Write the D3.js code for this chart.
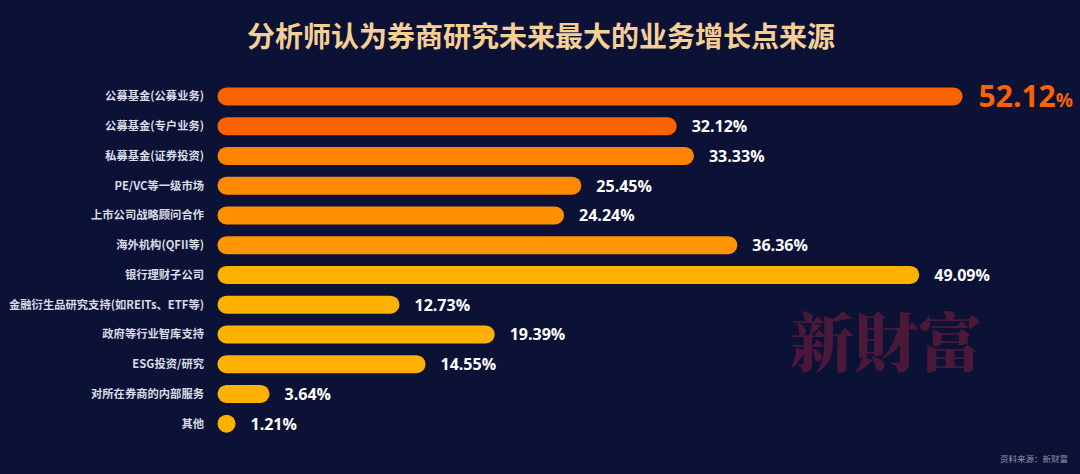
<!DOCTYPE html>
<html><head><meta charset="utf-8">
<script src="https://cdn.jsdelivr.net/npm/d3@7"></script>
<style>
html,body{margin:0;padding:0;background:#0c1136;}
svg{display:block;}
</style></head>
<body>
<svg id="c" width="1080" height="474"></svg>
<script>
const title = "分析师认为券商研究未来最大的业务增长点来源";
const categories = ["公募基金(公募业务)","公募基金(专户业务)","私募基金(证券投资)","PE/VC等一级市场","上市公司战略顾问合作","海外机构(QFII等)","银行理财子公司","金融衍生品研究支持(如REITs、ETF等)","政府等行业智库支持","ESG投资/研究","对所在券商的内部服务","其他"];
const values = [52.12,32.12,33.33,25.45,24.24,36.36,49.09,12.73,19.39,14.55,3.64,1.21];
const barColors = ["#fb6200","#fb6200","#ff8300","#ff8a00","#ff9000","#ff9500","#ffb100","#ffb100","#ffb100","#ffb100","#ffb100","#ffb100"];
const watermark = "新財富";
const source = "资料来源：新财富";

const svg = d3.select("#c");
svg.append("rect").attr("width",1080).attr("height",474).attr("fill","#0c1136");

svg.append("text").attr("x",541).attr("y",47).attr("text-anchor","middle")
  .attr("font-family","'Noto Sans CJK SC'").attr("font-weight",700).attr("font-size",28)
  .attr("fill","#f6cf95").text(title);

// watermark
svg.append("text").attr("x",886).attr("y",366).attr("text-anchor","middle")
  .attr("font-family","'Noto Serif CJK SC','Noto Sans CJK TC',serif").attr("font-weight",900).attr("font-size",64)
  .attr("fill","#4a1838").text(watermark);

const x = d3.scaleLinear().domain([0,52.12]).range([217.5,962.6]);
const y = d3.scaleBand().domain(categories).range([81.5,438.5]).paddingInner(0.4).paddingOuter(0.2);
const bh = 18;

const g = svg.append("g");
const rows = g.selectAll("g.row").data(categories).join("g");
rows.append("rect")
  .attr("x",x(0))
  .attr("y",(d)=>y(d)+y.bandwidth()/2-bh/2)
  .attr("height",bh)
  .attr("width",(d,i)=>Math.max(bh, x(values[i])-x(0)))
  .attr("rx",bh/2).attr("ry",bh/2)
  .attr("fill",(d,i)=>barColors[i]);

rows.append("text")
  .attr("x",204).attr("y",d=>y(d)+y.bandwidth()/2+4)
  .attr("text-anchor","end")
  .attr("font-family","'Noto Sans CJK SC'").attr("font-weight",700).attr("font-size",11.3)
  .attr("fill","#d9dce6").text(d=>d);

rows.each(function(d,i){
  const sel = d3.select(this);
  const end = x(0)+Math.max(bh, x(values[i])-x(0));
  const cy = y(d)+y.bandwidth()/2;
  if(i===0){
    const t = sel.append("text").attr("x",end+16).attr("y",cy+10.5)
      .attr("font-family","'Open Sans'").attr("font-weight",700).attr("fill","#fb6200");
    t.append("tspan").attr("font-size",30).text(values[i].toFixed(2));
    t.append("tspan").attr("font-size",19).text("%");
  } else {
    sel.append("text").attr("x",end+15).attr("y",cy+6)
      .attr("font-family","'Open Sans'").attr("font-weight",700).attr("font-size",16)
      .attr("fill","#ffffff").text(values[i].toFixed(2)+"%");
  }
});

svg.append("text").attr("x",1068).attr("y",462).attr("text-anchor","end")
  .attr("font-family","'Noto Sans CJK SC'").attr("font-size",8.5)
  .attr("fill","#8d92ad").text(source);
</script>
</body></html>
